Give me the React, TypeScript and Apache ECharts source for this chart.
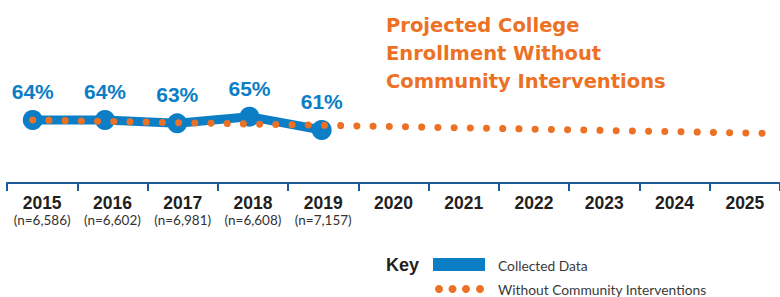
import React, { useEffect, useRef } from "react";
import * as echarts from "echarts";

const years = ["2015", "2016", "2017", "2018", "2019", "2020", "2021", "2022", "2023", "2024", "2025"];
const sampleSizes = ["6,586", "6,602", "6,981", "6,608", "7,157"];
const collectedYears = [2015, 2016, 2017, 2018, 2019];
const collectedRates = [64, 64, 63, 65, 61];
const projectedYears = [2015, 2025.1];
const projectedRates = [64, 60];
const titleLines = ["Projected College", "Enrollment Without", "Community Interventions"];
const legendLabels = ["Collected Data", "Without Community Interventions"];

const BLUE = "#0B7EC6";
const ORANGE = "#EC7124";
const AXIS = "#1C5A98";

export default function App() {
  const ref = useRef<HTMLDivElement>(null);

  useEffect(() => {
    document.body.style.margin = "0";
    const chart = echarts.init(ref.current!, null, { renderer: "svg" });
    const option: any = {
      animation: false,
      grid: { left: 7, width: 781, top: 67, height: 116 },
      xAxis: [
        {
          type: "category",
          data: years,
          boundaryGap: true,
          axisLine: { show: true, lineStyle: { color: AXIS, width: 2 } },
          axisTick: { show: true, length: 8, lineStyle: { color: AXIS, width: 2 } },
          axisLabel: {
            interval: 0,
            margin: 11,
            formatter: (value: string, index: number) =>
              index < sampleSizes.length
                ? `{y|${value}}\n{n|(n=${sampleSizes[index]})}`
                : `{y|${value}}`,
            rich: {
              y: {
                fontFamily: "Liberation Sans, Arial, sans-serif",
                fontWeight: "bold",
                fontSize: 17.5,
                lineHeight: 18,
                color: "#231F20",
              },
              n: {
                fontFamily: "Lato, sans-serif",
                fontSize: 13.5,
                lineHeight: 15,
                color: "#333333",
              },
            },
          },
          splitLine: { show: false },
        },
        {
          type: "value",
          show: false,
          min: 2014.644,
          max: 2025.343,
          splitLine: { show: false },
        },
      ],
      yAxis: {
        type: "value",
        min: 45,
        max: 80,
        show: false,
        splitLine: { show: false },
      },
      series: [
        {
          type: "line",
          xAxisIndex: 1,
          data: collectedYears.map((y, i) => [y, collectedRates[i]]),
          symbol: "circle",
          symbolSize: 20,
          itemStyle: { color: BLUE },
          lineStyle: { color: BLUE, width: 9 },
          label: {
            show: true,
            position: "top",
            distance: 8,
            formatter: (p: any) => `${p.value[1]}%`,
            fontFamily: "Liberation Sans, Arial, sans-serif",
            fontWeight: "bold",
            fontSize: 21,
            color: BLUE,
          },
          z: 2,
        },
        {
          type: "line",
          xAxisIndex: 1,
          data: projectedYears.map((y, i) => [y, projectedRates[i]]),
          showSymbol: false,
          symbol: "none",
          lineStyle: { color: ORANGE, width: 7, type: [0.01, 16.2], cap: "round" },
          z: 3,
        },
      ],
      graphic: [
        {
          type: "text",
          left: 386,
          top: 11,
          style: {
            text: titleLines.join("\n"),
            font: "bold 19.5px 'DejaVu Sans', sans-serif",
            lineHeight: 28,
            fill: ORANGE,
          },
        },
        {
          type: "text",
          x: 386,
          y: 265,
          style: {
            text: "Key",
            font: "bold 18px Liberation Sans, Arial, sans-serif",
            fill: "#231F20",
            verticalAlign: "middle",
          },
        },
        {
          type: "rect",
          shape: { x: 433, y: 258, width: 52, height: 13 },
          style: { fill: BLUE },
        },
        {
          type: "text",
          x: 498,
          y: 265,
          style: {
            text: legendLabels[0],
            font: "13.8px Lato, sans-serif",
            fill: "#3A3A3A",
            verticalAlign: "middle",
          },
        },
        ...[439, 452.5, 466, 480].map((cx) => ({
          type: "circle",
          shape: { cx, cy: 289, r: 4 },
          style: { fill: ORANGE },
        })),
        {
          type: "text",
          x: 498,
          y: 289,
          style: {
            text: legendLabels[1],
            font: "13.8px Lato, sans-serif",
            fill: "#3A3A3A",
            verticalAlign: "middle",
          },
        },
      ],
    };
    chart.setOption(option);
    return () => chart.dispose();
  }, []);

  return <div ref={ref} style={{ width: 780, height: 297 }} />;
}
